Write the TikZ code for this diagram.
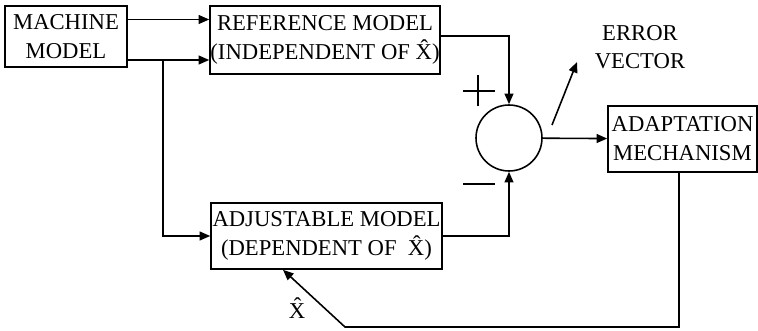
\documentclass[tikz,border=0pt]{standalone}
\usepackage{fontspec}
\setmainfont{Liberation Serif}
\usetikzlibrary{arrows.meta}

\tikzset{
  blk/.style={draw,line width=0.9pt,align=center,inner sep=0pt,font=\fontsize{12.9}{16.5}\selectfont},
  lbl/.style={align=center,inner sep=0pt,font=\fontsize{12.9}{15.6}\selectfont},
  ln/.style={line width=0.9pt},
  arr/.style={ln,-{Triangle[length=6pt,width=5pt]}}
}
\newcommand{\xhat}{\^{X}}

\begin{document}
\begin{tikzpicture}[x=0.02cm,y=-0.02cm]
\useasboundingbox (0,0) rectangle (758,331);

\node[blk,minimum width=2.44cm,minimum height=1.22cm] (machine) at (66,36.5) {MACHINE\\MODEL};
\node[blk,minimum width=4.6cm,minimum height=1.36cm] (refmodel) at (325,40) {REFERENCE MODEL\\(INDEPENDENT OF \xhat)};
\node[blk,minimum width=4.62cm,minimum height=1.32cm] (adjmodel) at (326.5,236) {ADJUSTABLE MODEL\\(DEPENDENT OF\ \ \xhat)};
\node[blk,minimum width=2.98cm,minimum height=1.32cm] (adapt) at (682.5,139) {ADAPTATION\\MECHANISM};
\node[draw,ln,circle,minimum size=1.32cm,inner sep=0pt] (sum) at (509,138) {};

\node[lbl] (errlbl) at (640,47) {ERROR\\VECTOR};
\node[lbl] (xlbl) at (297,308) {\xhat};

% signs at the summing junction
\draw[line width=0.7pt] (463,91) -- (495,91) (478,75) -- (478,106);
\draw[line width=0.7pt] (463,184) -- (495,184);

\coordinate (br) at (163,60);
\coordinate (err) at (577,62);
\coordinate (fb) at (345,327);

\draw[arr] (machine.east |- 0,19.5) -- (refmodel.west |- 0,19.5);
\draw[arr] (machine.east |- br) -- (refmodel.west |- br);
\draw[arr] (br) |- (adjmodel.west);
\draw[arr] (refmodel.east |- 0,36) -| (sum.north);
\draw[arr] (adjmodel.east) -| (sum.south);
\draw[arr] (sum) -- (adapt);
\draw[arr] ([shift={(43,-13)}]sum.center) -- (err);
\draw[arr] (adapt.south -| 679,0) |- (fb) -- (adjmodel.south -| 283,0);
\end{tikzpicture}
\end{document}
